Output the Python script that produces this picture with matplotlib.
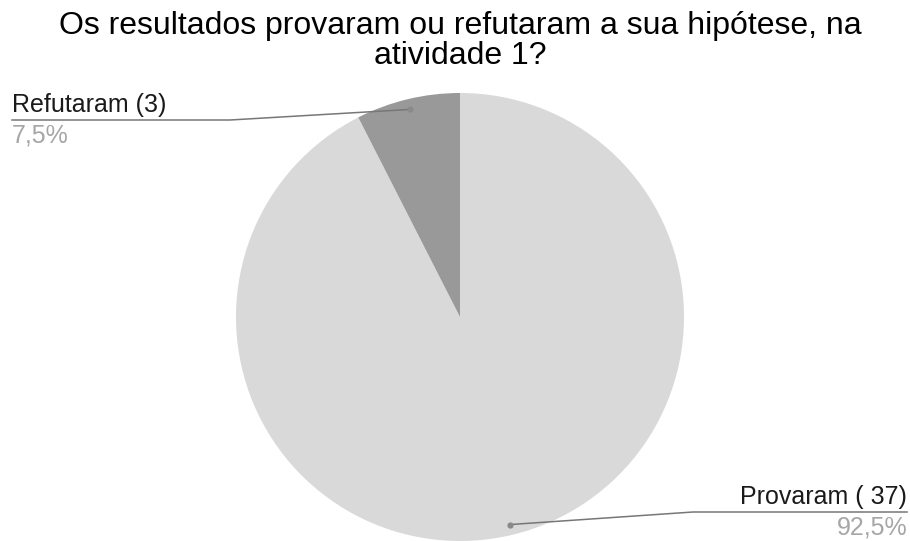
import numpy as np
import matplotlib.pyplot as plt

plt.rcParams['font.family'] = ['Liberation Sans', 'DejaVu Sans']

# respostas da atividade 1
labels = ["Provaram ( 37)", "Refutaram (3)"]
counts = [37, 3]
colors = ["#d9d9d9", "#999999"]

W, H = 910, 541
fig = plt.figure(figsize=(W / 100, H / 100), dpi=100)
ax = fig.add_axes([0, 0, 1, 1])

cx, cy, R = 460, H - 317, 224
wedges, _ = ax.pie(counts, colors=colors, startangle=90, counterclock=False,
                   center=(cx, cy), radius=R, wedgeprops=dict(linewidth=0))
ax.set_xlim(0, W)
ax.set_ylim(0, H)
ax.set_aspect('equal')
ax.axis('off')

total = sum(counts)
# elbow of the leader line and the end of its horizontal run (pixels)
leaders = [((693, H - 512), 907, 'right'), ((230, H - 120), 12, 'left')]

for w, lab, n, (elbow, xend, side) in zip(wedges, labels, counts, leaders):
    mid = np.deg2rad((w.theta1 + w.theta2) / 2)
    px, py = cx + 0.953 * R * np.cos(mid), cy + 0.953 * R * np.sin(mid)
    ax.plot([px, elbow[0], xend], [py, elbow[1], elbow[1]], color="#777777", lw=1.1)
    ax.plot(px, py, 'o', color="#8a8a8a", ms=4.5, mec='none')
    pct = f"{100 * n / total:.1f}%".replace('.', ',')
    ax.text(xend, elbow[1] + 3, lab, ha=side, va='bottom', fontsize=18, color="#1a1a1a")
    ax.text(xend, elbow[1] - 3, pct, ha=side, va='top', fontsize=18, color="#a6a6a6")

fig.text(460 / W, 1 - 41 / H, "Os resultados provaram ou refutaram a sua hipótese, na\natividade 1?",
         ha='center', va='center', fontsize=23, color="#000000", linespacing=1.02)

fig.savefig("out.png", dpi=100)
